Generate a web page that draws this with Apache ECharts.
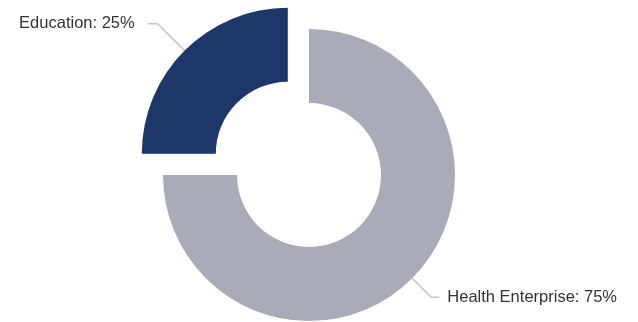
<!DOCTYPE html>
<html>
<head>
<meta charset="utf-8">
<script src="https://cdn.jsdelivr.net/npm/echarts@6/dist/echarts.min.js"></script>
<style>html,body{margin:0;padding:0;background:#fff;}#c{width:638px;height:322px;}</style>
</head>
<body>
<div id="c"></div>
<script>
const categories = ["Health Enterprise", "Education"];
const values = [75, 25];
const selectedFlags = [false, true];
const colors = ["#a8acb8", "#1d3768"];

const lineLen = [27, 38];
const lineLen2 = [8, 10];
const labelGap = [8, 13];

const chart = echarts.init(document.getElementById('c'), null, {renderer: 'canvas'});
chart.setOption({
  animation: false,
  backgroundColor: '#ffffff',
  series: [{
    type: 'pie',
    center: [309, 175],
    radius: [72, 146],
    startAngle: 90,
    clockwise: true,
    selectedMode: 'multiple',
    selectedOffset: 30,
    avoidLabelOverlap: false,
    label: {
      show: true,
      formatter: '{b}: {c}%',
      color: '#333333',
      fontFamily: 'Liberation Sans, Arial, sans-serif',
      fontSize: 16.5
    },
    labelLine: {
      show: true,
      lineStyle: { color: '#c4c4c4', width: 1.5 }
    },
    emphasis: { disabled: true },
    data: categories.map((n, i) => ({
      name: n,
      value: values[i],
      selected: selectedFlags[i],
      itemStyle: { color: colors[i] },
      label: { distanceToLabelLine: labelGap[i] },
      labelLine: { length: lineLen[i], length2: lineLen2[i] }
    }))
  }]
});
</script>
</body>
</html>
